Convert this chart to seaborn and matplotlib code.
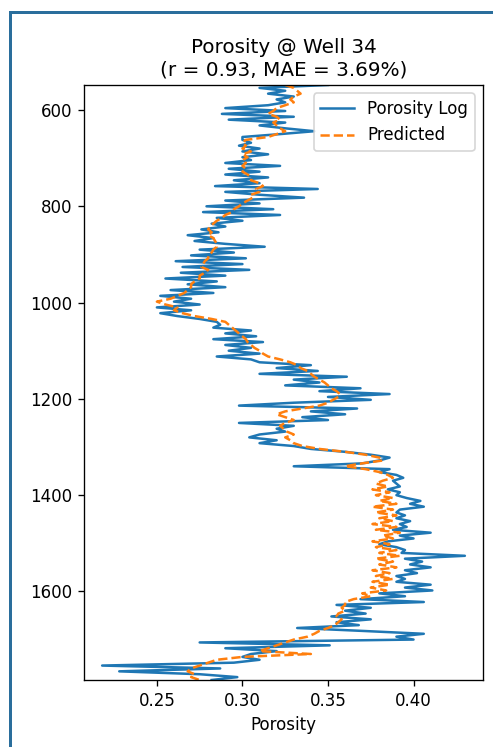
import numpy as np
import pandas as pd
import matplotlib
matplotlib.use("Agg")
import matplotlib.pyplot as plt
from matplotlib.lines import Line2D
import seaborn as sns

# ==========================================
# 1. DATA
# ==========================================
# kedalaman sampel, tiap 6 satuan
depth = np.arange(548, 1785, 6)

porosity_log = [
    0.350, 0.310, 0.325, 0.315, 0.330, 0.320, 0.325, 0.315, 0.290, 0.325,
    0.288, 0.330, 0.292, 0.325, 0.310, 0.325, 0.342, 0.322, 0.300, 0.300,
    0.305, 0.298, 0.310, 0.300, 0.315, 0.300, 0.305, 0.290, 0.322, 0.292,
    0.310, 0.290, 0.315, 0.295, 0.310, 0.284, 0.344, 0.290, 0.310, 0.336,
    0.290, 0.310, 0.279, 0.318, 0.277, 0.322, 0.285, 0.300, 0.282, 0.290,
    0.276, 0.286, 0.268, 0.283, 0.272, 0.290, 0.313, 0.275, 0.295, 0.270,
    0.302, 0.261, 0.300, 0.265, 0.304, 0.264, 0.290, 0.255, 0.285, 0.268,
    0.290, 0.258, 0.283, 0.252, 0.270, 0.260, 0.275, 0.250, 0.270, 0.252,
    0.262, 0.275, 0.285, 0.287, 0.283, 0.305, 0.290, 0.308, 0.283, 0.312,
    0.290, 0.305, 0.292, 0.310, 0.285, 0.305, 0.310, 0.340, 0.320, 0.344,
    0.310, 0.361, 0.330, 0.345, 0.325, 0.369, 0.345, 0.386, 0.350, 0.375,
    0.330, 0.298, 0.367, 0.340, 0.360, 0.335, 0.350, 0.298, 0.330, 0.320,
    0.325, 0.310, 0.304, 0.320, 0.310, 0.330, 0.340, 0.360, 0.375, 0.386,
    0.380, 0.370, 0.330, 0.386, 0.380, 0.390, 0.394, 0.388, 0.390, 0.392,
    0.385, 0.392, 0.390, 0.396, 0.404, 0.398, 0.406, 0.392, 0.390, 0.395,
    0.390, 0.398, 0.392, 0.396, 0.388, 0.410, 0.392, 0.400, 0.385, 0.380,
    0.390, 0.395, 0.393, 0.430, 0.395, 0.405, 0.398, 0.410, 0.395, 0.402,
    0.390, 0.395, 0.390, 0.410, 0.395, 0.411, 0.380, 0.395, 0.369, 0.406,
    0.355, 0.375, 0.360, 0.372, 0.352, 0.375, 0.355, 0.368, 0.332, 0.370,
    0.406, 0.390, 0.400, 0.275, 0.351, 0.290, 0.320, 0.305, 0.300, 0.310,
    0.295, 0.218, 0.287, 0.228, 0.275, 0.297, 0.282,
]

porosity_pred = [
    0.325, 0.330, 0.332, 0.334, 0.330, 0.328, 0.330, 0.325, 0.320, 0.318,
    0.315, 0.320, 0.322, 0.318, 0.320, 0.322, 0.325, 0.320, 0.315, 0.302,
    0.300, 0.302, 0.300, 0.305, 0.300, 0.303, 0.300, 0.302, 0.300, 0.302,
    0.300, 0.303, 0.305, 0.305, 0.310, 0.312, 0.308, 0.310, 0.305, 0.306,
    0.303, 0.300, 0.298, 0.295, 0.294, 0.290, 0.288, 0.285, 0.283, 0.281,
    0.280, 0.282, 0.280, 0.283, 0.284, 0.285, 0.285, 0.283, 0.282, 0.280,
    0.280, 0.278, 0.277, 0.276, 0.280, 0.278, 0.275, 0.275, 0.272, 0.270,
    0.270, 0.268, 0.266, 0.262, 0.258, 0.250, 0.255, 0.262, 0.260, 0.265,
    0.272, 0.282, 0.290, 0.292, 0.294, 0.296, 0.298, 0.300, 0.302, 0.303,
    0.305, 0.307, 0.310, 0.312, 0.315, 0.322, 0.328, 0.332, 0.334, 0.338,
    0.340, 0.342, 0.345, 0.348, 0.350, 0.352, 0.355, 0.357, 0.356, 0.353,
    0.350, 0.345, 0.335, 0.325, 0.320, 0.325, 0.330, 0.325, 0.322, 0.324,
    0.326, 0.330, 0.325, 0.328, 0.330, 0.335, 0.345, 0.360, 0.372, 0.380,
    0.382, 0.370, 0.360, 0.372, 0.380, 0.385, 0.388, 0.382, 0.378, 0.385,
    0.376, 0.386, 0.378, 0.388, 0.380, 0.390, 0.376, 0.388, 0.378, 0.390,
    0.380, 0.388, 0.376, 0.390, 0.378, 0.392, 0.382, 0.388, 0.376, 0.386,
    0.378, 0.390, 0.380, 0.392, 0.378, 0.388, 0.380, 0.390, 0.376, 0.386,
    0.378, 0.388, 0.376, 0.386, 0.375, 0.384, 0.370, 0.375, 0.365, 0.360,
    0.360, 0.358, 0.360, 0.356, 0.355, 0.358, 0.356, 0.354, 0.350, 0.345,
    0.342, 0.338, 0.330, 0.325, 0.320, 0.315, 0.310, 0.340, 0.300, 0.285,
    0.280, 0.275, 0.270, 0.268, 0.272, 0.270, 0.275,
]

title_text = "Porosity @ Well 34\n(r = 0.93, MAE = 3.69%)"

df = pd.DataFrame({"depth": depth, "log": porosity_log, "pred": porosity_pred})

# ==========================================
# 2. PLOT
# ==========================================
fig = plt.figure(figsize=(493 / 120, 747 / 120), dpi=120)
ax = fig.add_axes([84 / 493, 1 - 680 / 747, 399 / 493, 595 / 747])

sns.lineplot(data=df, x="log", y="depth", orient="y", sort=False, estimator=None,
             color="#1f77b4", linewidth=1.5, label="Porosity Log", ax=ax)
sns.lineplot(data=df, x="pred", y="depth", orient="y", sort=False, estimator=None,
             color="#ff7f0e", linewidth=1.5, linestyle="--", label="Predicted", ax=ax)

ax.set_ylim(depth.max(), depth.min())
ax.set_xticks([0.25, 0.30, 0.35, 0.40])
ax.set_xlabel("Porosity")
ax.set_ylabel("")
ax.set_title(title_text, fontsize=12)
ax.legend(loc="upper right")

# bingkai biru dari tangkapan layar
fig.add_artist(Line2D([10 / 493, 10 / 493], [0, 1 - 12 / 747], color="#2a6e9c", lw=1.8))
fig.add_artist(Line2D([10 / 493, 1], [1 - 12 / 747, 1 - 12 / 747], color="#2a6e9c", lw=1.8))

fig.savefig("out.png", dpi=120)
plt.close(fig)
